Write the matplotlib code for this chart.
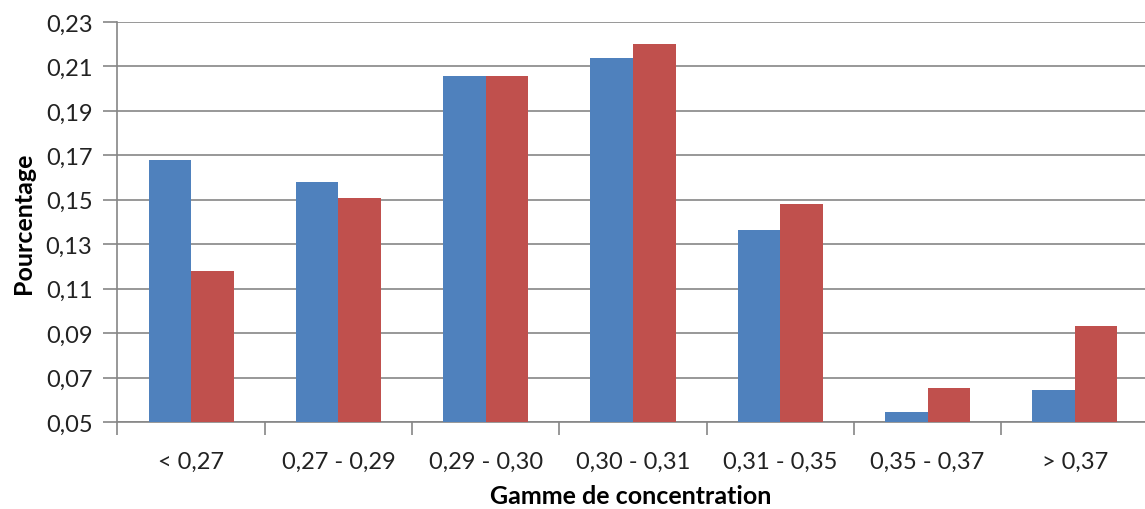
import matplotlib
matplotlib.use("Agg")
import matplotlib.pyplot as plt
import numpy as np
from matplotlib.ticker import FixedLocator, FuncFormatter

categories = ["< 0,27", "0,27 - 0,29", "0,29 - 0,30", "0,30 - 0,31", "0,31 - 0,35", "0,35 - 0,37", "> 0,37"]
serie_bleue = [0.168, 0.158, 0.2055, 0.214, 0.1365, 0.0545, 0.0643]
serie_rouge = [0.118, 0.151, 0.2055, 0.220, 0.148, 0.0653, 0.0932]
y_ticks = [0.05, 0.07, 0.09, 0.11, 0.13, 0.15, 0.17, 0.19, 0.21, 0.23]

plt.rcParams['font.family'] = ['Lato', 'DejaVu Sans']

fig = plt.figure(figsize=(11.45, 5.10), dpi=100)
ax = fig.add_axes([0.1026, 0.1706, 0.9004, 0.7843])

x = np.arange(len(categories))
w = 0.289
blue = "#4F81BD"
red = "#C0504D"
ax.bar(x - w/2, serie_bleue, width=w, color=blue, zorder=3)
ax.bar(x + w/2, serie_rouge, width=w, color=red, zorder=3)

ax.set_xlim(-0.5, len(categories) - 0.5)
ax.set_ylim(0.05, 0.23)
ax.yaxis.set_major_locator(FixedLocator(y_ticks))
ax.yaxis.set_major_formatter(FuncFormatter(lambda v, p: f"{v:.2f}".replace(".", ",")))
ax.set_xticks(x)
ax.set_xticklabels(categories)
ax.set_xticks(np.arange(-0.5, len(categories) + 0.5, 1.0), minor=True)

gray = "#868686"
ax.grid(axis="y", color=gray, linewidth=1.2, zorder=0)
for s in ["top", "right"]:
    ax.spines[s].set_visible(False)
for s in ["left", "bottom"]:
    ax.spines[s].set_color(gray)
    ax.spines[s].set_linewidth(1.2)

ax.tick_params(axis="y", which="major", length=10, width=1.2, color=gray, labelsize=17, pad=8, labelcolor="#222222")
ax.tick_params(axis="x", which="major", length=0, labelsize=17, pad=21, labelcolor="#222222")
ax.tick_params(axis="x", which="minor", length=9, width=1.2, color=gray)

ax.set_xlabel("Gamme de concentration", fontsize=18, fontweight="bold", va="center")
ax.xaxis.set_label_coords(0.498, -0.185)
ax.set_ylabel("Pourcentage", fontsize=18, fontweight="bold", labelpad=8)

fig.savefig("out.png", dpi=100, facecolor="white")
